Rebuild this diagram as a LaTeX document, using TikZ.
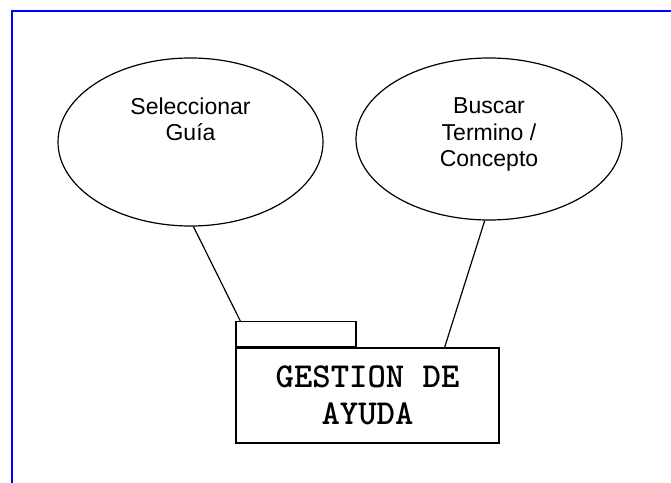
\documentclass[tikz,border=0pt]{standalone}
\usepackage{fontspec}
\setmainfont{Liberation Sans}
\usetikzlibrary{shapes.geometric}

\tikzset{
	usecase/.style={draw, ellipse, line width=1.2pt, inner sep=0pt},
	casetext/.style={align=center, font=\fontsize{23}{26.5}\selectfont},
	pkgbox/.style={draw, line width=1.2pt, inner sep=0pt},
	pkgtext/.style={align=center, font=\fontsize{35}{37}\selectfont\ttfamily\bfseries},
	frame/.style={draw=blue, line width=2pt},
	link/.style={line width=1.2pt},
}

\begin{document}
\begin{tikzpicture}[x=1pt,y=-1pt]
	\useasboundingbox (0,0) rectangle (671,482);
	\coordinate (fbottom) at (12,483);
	\coordinate (fcorner) at (12,11);
	\coordinate (fright) at (672,11);
	\draw[frame] (fbottom) -- (fcorner) -- (fright);

	\node[usecase, minimum width=265pt, minimum height=168pt,
		label={[casetext, yshift=22.5pt]center:Seleccionar\\Guía}] (sel) at (190.5,142) {};
	\node[usecase, minimum width=266pt, minimum height=162pt,
		label={[casetext, yshift=4.5pt]center:Buscar\\Termino /\\Concepto}] (bus) at (489,139) {};

	\node[pkgbox, pkgtext, minimum width=263pt, minimum height=95pt] (pkg) at (367.5,395.5) {GESTION DE\\AYUDA};
	\node[pkgbox, anchor=south west, minimum width=120pt, minimum height=25pt] (tab) at (pkg.north west) {};

	\draw[link] (sel.272) -- ([xshift=5pt]tab.north west);
	\draw[link] (bus.267) -- ([xshift=-55pt]pkg.north east);
\end{tikzpicture}
\end{document}
